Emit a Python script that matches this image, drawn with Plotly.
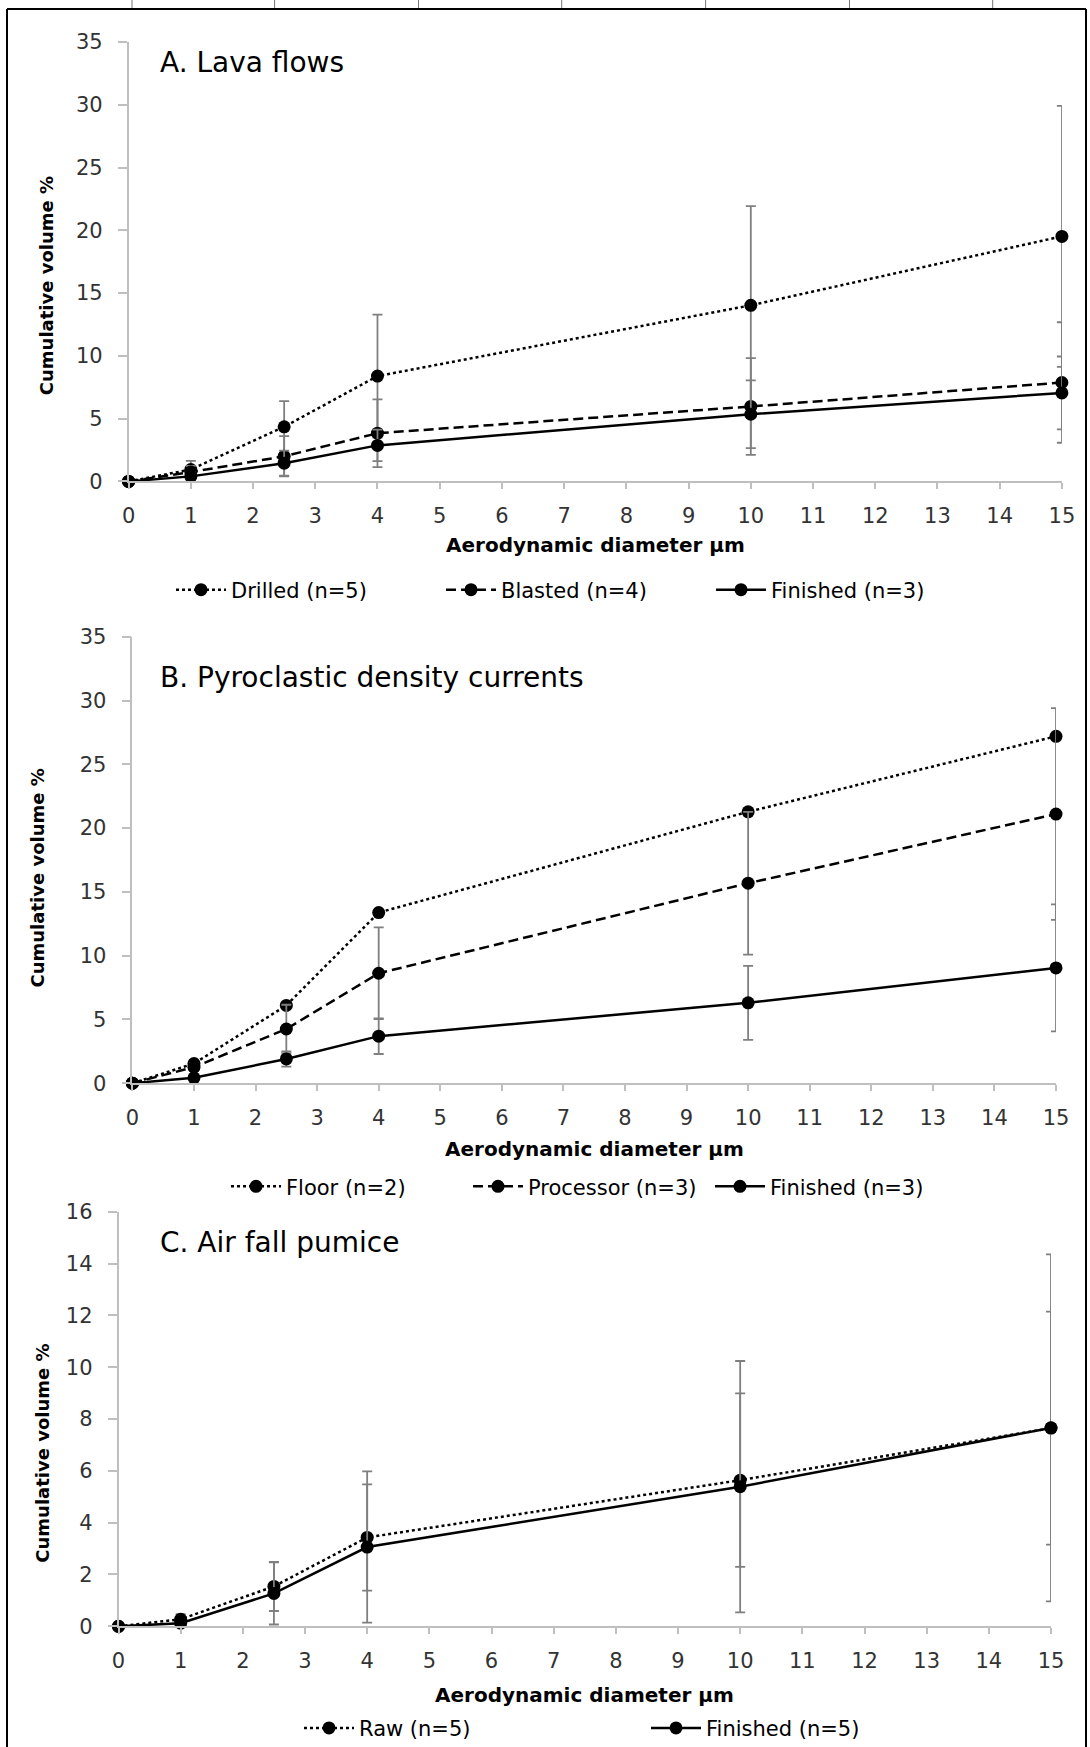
import plotly.graph_objects as go

W, H = 1090, 1747

# Aerodynamic diameter classes (µm)
diameters = [0, 1, 2.5, 4, 10, 15]

# A. Lava flows – cumulative volume % (mean) and error (±)
lava_drilled = [0, 0.94, 4.35, 8.39, 14.03, 19.52]
lava_drilled_err = [0, 0.7, 2.05, 4.9, 7.9, 10.4]
lava_blasted = [0, 0.74, 2.0, 3.84, 5.97, 7.88]
lava_blasted_err = [0, 0.5, 1.6, 2.7, 3.85, 4.8]
lava_finished = [0, 0.4, 1.45, 2.87, 5.35, 7.05]
lava_finished_err = [0, 0.3, 1.0, 1.25, 2.7, 2.9]

# B. Pyroclastic density currents
pdc_floor = [0, 1.54, 6.1, 13.38, 21.28, 27.2]
pdc_processor = [0, 1.26, 4.25, 8.62, 15.68, 21.1]
pdc_processor_err = [0, 0.3, 1.9, 3.6, 5.6, 8.3]
pdc_finished = [0, 0.42, 1.9, 3.69, 6.3, 9.04]
pdc_finished_err = [0, 0.2, 0.6, 1.4, 2.9, 4.98]

# C. Air fall pumice
pumice_raw = [0, 0.27, 1.54, 3.43, 5.64, 7.65]
pumice_raw_err = [0, 0.2, 0.95, 2.05, 3.35, 4.5]
pumice_finished = [0, 0.12, 1.27, 3.06, 5.39, 7.66]
pumice_finished_err = [0, 0.1, 1.2, 2.92, 4.85, 6.7]

x_ticks = list(range(0, 16))

FONT = "DejaVu Sans"
AXIS_GREY = "#bfbfbf"
ERR_GREY = "#7f7f7f"
TICK_COLOR = "#333333"


def px_x(p):
    return p / W


def px_y(p):
    return 1 - p / H


# plot-area boxes in pixels: (left, right, top, bottom)
boxes = {
    "A": (128.6, 1061.9, 42.1, 481.4),
    "B": (132.4, 1056.0, 636.8, 1083.2),
    "C": (118.5, 1051.0, 1211.8, 1626.3),
}

fig = go.Figure()


def add_series(xa, ya, legend, name, y, err, dash):
    kw = dict(
        x=diameters, y=y, name=name, mode="lines+markers",
        xaxis=xa, yaxis=ya, legend=legend, cliponaxis=False,
        line=dict(color="black", width=2.5, dash=dash),
        marker=dict(color="black", size=13, symbol="circle"),
    )
    if err is not None:
        kw["error_y"] = dict(type="data", array=err, visible=True,
                             color=ERR_GREY, thickness=1.8, width=5)
    fig.add_trace(go.Scatter(**kw))


DASH = "10px,5px"

add_series("x", "y", "legend", "Drilled (n=5)", lava_drilled, lava_drilled_err, "dot")
add_series("x", "y", "legend", "Blasted (n=4)", lava_blasted, lava_blasted_err, DASH)
add_series("x", "y", "legend", "Finished (n=3)", lava_finished, lava_finished_err, "solid")

add_series("x2", "y2", "legend2", "Floor (n=2)", pdc_floor, None, "dot")
add_series("x2", "y2", "legend2", "Processor (n=3)", pdc_processor, pdc_processor_err, DASH)
add_series("x2", "y2", "legend2", "Finished (n=3)", pdc_finished, pdc_finished_err, "solid")

add_series("x3", "y3", "legend3", "Raw (n=5)", pumice_raw, pumice_raw_err, "dot")
add_series("x3", "y3", "legend3", "Finished (n=5)", pumice_finished, pumice_finished_err, "solid")


def xaxis_cfg(box, anchor):
    l, r, t, b = box
    return dict(
        domain=[px_x(l), px_x(r)], anchor=anchor, range=[0, 15],
        tickmode="array", tickvals=x_ticks,
        showline=True, linecolor=AXIS_GREY, linewidth=1.5,
        ticks="outside", ticklen=6, tickwidth=1.5, tickcolor=AXIS_GREY,
        ticklabelstandoff=9,
        showgrid=False, zeroline=False,
        tickfont=dict(family=FONT, size=21, color=TICK_COLOR),
    )


def yaxis_cfg(box, anchor, top, step):
    l, r, t, b = box
    return dict(
        domain=[px_y(b), px_y(t)], anchor=anchor, range=[0, top],
        dtick=step, tick0=0,
        showline=True, linecolor=AXIS_GREY, linewidth=1.5,
        ticks="outside", ticklen=9, tickwidth=1.5, tickcolor=AXIS_GREY,
        ticklabelstandoff=11,
        showgrid=False, zeroline=False,
        tickfont=dict(family=FONT, size=21, color=TICK_COLOR),
    )


def legend_cfg(left, cy, entry):
    return dict(
        orientation="h", x=px_x(left), xanchor="left",
        y=px_y(cy), yanchor="middle",
        font=dict(family=FONT, size=21, color="black"),
        bgcolor="rgba(0,0,0,0)", entrywidth=entry, itemwidth=50,
        traceorder="normal",
    )


annotations = []


def panel_text(box, title, title_y, xtitle_y, ytitle_x, ytitle_y):
    l, r, t, b = box
    annotations.append(dict(
        text=title, x=px_x(158), y=px_y(title_y), xref="paper", yref="paper",
        xanchor="left", yanchor="middle", showarrow=False,
        font=dict(family=FONT, size=28, color="black"),
    ))
    annotations.append(dict(
        text="<b>Aerodynamic diameter µm</b>", x=px_x((l + r) / 2), y=px_y(xtitle_y),
        xref="paper", yref="paper", xanchor="center", yanchor="middle",
        showarrow=False, font=dict(family=FONT, size=20, color="black"),
    ))
    annotations.append(dict(
        text="<b>Cumulative volume %</b>", x=px_x(ytitle_x), y=px_y(ytitle_y),
        xref="paper", yref="paper", xanchor="center", yanchor="middle",
        textangle=-90, showarrow=False,
        font=dict(family=FONT, size=18, color="black"),
    ))


panel_text(boxes["A"], "A. Lava flows", 62.5, 544.6, 46.6, 285.6)
panel_text(boxes["B"], "B. Pyroclastic density currents", 677.5, 1149.3, 36.5, 878)
panel_text(boxes["C"], "C. Air fall pumice", 1242, 1695, 41.7, 1453)

# outer frame of the figure
shapes = [
    dict(type="line", xref="paper", yref="paper", x0=px_x(7), x1=px_x(7),
         y0=px_y(9), y1=px_y(H + 5), line=dict(color="black", width=2)),
    dict(type="line", xref="paper", yref="paper", x0=px_x(1086), x1=px_x(1086),
         y0=px_y(9), y1=px_y(H + 5), line=dict(color="black", width=2)),
    dict(type="line", xref="paper", yref="paper", x0=px_x(7), x1=px_x(1086),
         y0=px_y(9), y1=px_y(9), line=dict(color="black", width=2)),
]
for gx in [132, 274.6, 418.5, 561.7, 705.6, 849.5, 992.7]:
    shapes.append(dict(type="line", xref="paper", yref="paper", x0=px_x(gx), x1=px_x(gx),
                       y0=px_y(0), y1=px_y(8), line=dict(color="#777777", width=1)))

fig.update_layout(
    width=W, height=H,
    margin=dict(l=0, r=0, t=0, b=0, autoexpand=False),
    paper_bgcolor="white", plot_bgcolor="white",
    showlegend=True,
    xaxis=xaxis_cfg(boxes["A"], "y"),
    yaxis=yaxis_cfg(boxes["A"], "x", 35, 5),
    xaxis2=xaxis_cfg(boxes["B"], "y2"),
    yaxis2=yaxis_cfg(boxes["B"], "x2", 35, 5),
    xaxis3=xaxis_cfg(boxes["C"], "y3"),
    yaxis3=yaxis_cfg(boxes["C"], "x3", 16, 2),
    legend=legend_cfg(171, 590, 205),
    legend2=legend_cfg(226, 1186.7, 177),
    legend3=legend_cfg(299, 1728.3, 282),
    annotations=annotations,
    shapes=shapes,
)

fig.write_html("out.html")
